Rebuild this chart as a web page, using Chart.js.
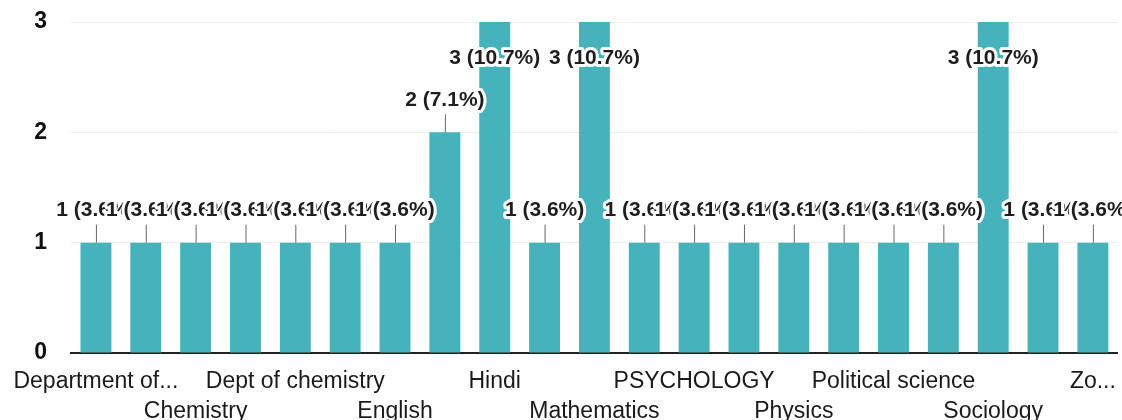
<!DOCTYPE html>
<html>
<head>
<meta charset="utf-8">
<script src="https://cdn.jsdelivr.net/npm/chart.js@4"></script>
<style>
  html, body { margin: 0; padding: 0; background: #fff; }
  #wrap { width: 1122px; height: 420px; position: relative; }
</style>
</head>
<body>
<div id="wrap"><canvas id="chart"></canvas></div>
<script>
// departments (only every other name is printed on the axis)
const departments = [
  "Department of...", "", "Chemistry", "", "Dept of chemistry", "", "English",
  "", "Hindi", "", "Mathematics", "", "PSYCHOLOGY", "",
  "Physics", "", "Political science", "", "Sociology", "", "Zo..."
];
const responses = [1, 1, 1, 1, 1, 1, 1, 2, 3, 1, 3, 1, 1, 1, 1, 1, 1, 1, 3, 1, 1];
const yTicks = [0, 1, 2, 3];

const FONT = '"Liberation Sans", Arial, sans-serif';
const total = responses.reduce((a, b) => a + b, 0);

// "n (p%)" above each bar, with a short leader line; pushed inside when the bar hits the top
const valueLabels = {
  id: "valueLabels",
  afterDatasetsDraw(chart) {
    const { ctx, chartArea } = chart;
    const meta = chart.getDatasetMeta(0);
    ctx.save();
    ctx.font = "bold 21px " + FONT;
    ctx.textAlign = "center";
    ctx.textBaseline = "middle";
    ctx.lineJoin = "round";
    meta.data.forEach((bar, i) => {
      const v = responses[i];
      const text = `${v} (${(v / total * 100).toFixed(1)}%)`;
      let y = bar.y - 32;
      if (y - 11 < chartArea.top) {
        y = bar.y + 36;
      } else {
        ctx.strokeStyle = "#666";
        ctx.lineWidth = 1;
        ctx.beginPath();
        ctx.moveTo(bar.x + 0.5, bar.y - 18);
        ctx.lineTo(bar.x + 0.5, bar.y);
        ctx.stroke();
      }
      ctx.strokeStyle = "#fff";
      ctx.lineWidth = 6;
      ctx.strokeText(text, bar.x, y);
      ctx.fillStyle = "#1e1e1e";
      ctx.fillText(text, bar.x, y);
    });
    ctx.restore();
  }
};

new Chart(document.getElementById("chart"), {
  type: "bar",
  data: {
    labels: departments,
    datasets: [{
      data: responses,
      backgroundColor: "#46b3bc",
      barPercentage: 0.62,
      categoryPercentage: 1
    }]
  },
  options: {
    responsive: true,
    maintainAspectRatio: false,
    animation: false,
    layout: { padding: { top: 22, right: 4 } },
    plugins: { legend: { display: false }, tooltip: { enabled: false } },
    scales: {
      x: {
        grid: { display: false },
        border: { color: "#222", width: 2 },
        afterFit: s => { s.height = 67; },
        ticks: {
          autoSkip: false,
          maxRotation: 0,
          padding: 6,
          color: "#1a1a1a",
          font: { family: FONT, size: 23, lineHeight: "30px" },
          callback: (val, i) => {
            const name = departments[i];
            if (!name) return "";
            return (i / 2) % 2 ? ["", name] : name;
          }
        }
      },
      y: {
        min: yTicks[0],
        max: yTicks[yTicks.length - 1],
        afterBuildTicks: s => { s.ticks = yTicks.map(v => ({ value: v })); },
        // fixed gutter; don't let the tick padding push the plot down
        afterFit: s => { s.width = 71; s.paddingTop = 0; s.paddingBottom = 0; },
        border: { display: false },
        grid: { color: "#ededed", drawTicks: false },
        ticks: {
          padding: 24,
          color: "#111",
          font: { family: FONT, size: 23, weight: "bold" }
        }
      }
    }
  },
  plugins: [valueLabels]
});
</script>
</body>
</html>
